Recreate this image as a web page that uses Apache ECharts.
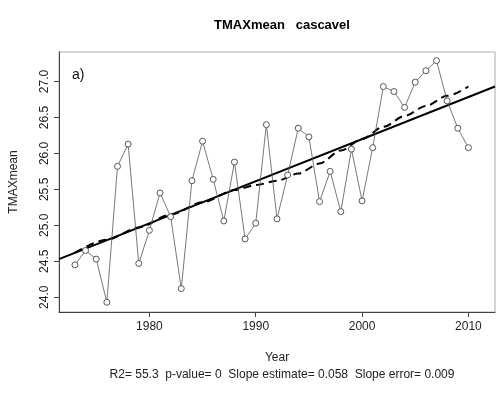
<!DOCTYPE html>
<html>
<head>
<meta charset="utf-8">
<script src="https://cdn.jsdelivr.net/npm/echarts@6/dist/echarts.min.js"></script>
<style>
  html, body { margin: 0; padding: 0; background: #fff; }
  #chart { width: 502px; height: 394px; }
</style>
</head>
<body>
<div id="chart"></div>
<script>
// yearly values
var years = [1973, 1974, 1975, 1976, 1977, 1978, 1979, 1980, 1981, 1982,
             1983, 1984, 1985, 1986, 1987, 1988, 1989, 1990, 1991, 1992,
             1993, 1994, 1995, 1996, 1997, 1998, 1999, 2000, 2001, 2002,
             2003, 2004, 2005, 2006, 2007, 2008, 2009, 2010];
var tmaxMean = [24.45, 24.65, 24.53, 23.93, 25.82, 26.13, 24.47, 24.93, 25.45, 25.12,
                24.12, 25.62, 26.17, 25.64, 25.06, 25.88, 24.81, 25.03, 26.40, 25.09,
                25.70, 26.35, 26.23, 25.33, 25.75, 25.19, 26.06, 25.34, 26.08, 26.93,
                26.86, 26.64, 26.99, 27.15, 27.29, 26.73, 26.35, 26.08];

// smooth (dashed) curve
var smoothYears = [1973, 1976, 1979, 1982, 1985, 1988, 1990, 1992, 1994, 1996,
                   1998, 2000, 2002, 2004, 2006, 2008, 2010];
var smoothVals = [24.62, 24.80, 24.97, 25.15, 25.32, 25.49, 25.56, 25.62, 25.72, 25.86,
                  26.04, 26.20, 26.37, 26.52, 26.66, 26.80, 26.93];

// linear trend (solid), ends at the plot edges
var trendYears = [1971.5, 2012.5];
var trendVals = [24.53, 26.93];

var xTicks = [1980, 1990, 2000, 2010];
var yTicks = [24.0, 24.5, 25.0, 25.5, 26.0, 26.5, 27.0];

function pairs(xs, ys) {
    return xs.map(function (x, i) { return [x, ys[i]]; });
}

var chart = echarts.init(document.getElementById('chart'));
var font = 'Liberation Sans, Arial, sans-serif';

var option = {
    animation: false,
    title: [
        {
            text: 'TMAXmean   cascavel',
            left: 277, top: 14,
            textAlign: 'center',
            textStyle: { fontSize: 13, fontWeight: 'bold', color: '#000', fontFamily: font }
        },
        {
            text: 'R2= 55.3  p-value= 0  Slope estimate= 0.058  Slope error= 0.009',
            left: 277, top: 364,
            textAlign: 'center',
            textStyle: { fontSize: 12, fontWeight: 'normal', color: '#222', fontFamily: font }
        }
    ],
    grid: {
        left: 59, right: 7, top: 52, bottom: 82,
        show: true,
        borderColor: '#aaa',
        borderWidth: 1
    },
    xAxis: {
        type: 'value',
        min: 1971.5,
        max: 2012.5,
        name: 'Year',
        nameLocation: 'middle',
        nameGap: 40,
        nameTextStyle: { fontSize: 12, color: '#222', fontFamily: font },
        splitLine: { show: false },
        axisLine: { show: true, lineStyle: { color: '#444', width: 1 } },
        axisTick: { show: true, length: 5, customValues: xTicks, lineStyle: { color: '#444' } },
        axisLabel: {
            customValues: xTicks,
            margin: 9,
            fontSize: 12,
            color: '#222',
            fontFamily: font,
            formatter: function (v) { return String(v); }
        }
    },
    yAxis: {
        type: 'value',
        min: 23.795,
        max: 27.41,
        name: 'TMAXmean',
        nameLocation: 'middle',
        nameRotate: 90,
        nameGap: 39,
        nameTextStyle: { fontSize: 12, color: '#222', fontFamily: font },
        splitLine: { show: false },
        axisLine: { show: true, lineStyle: { color: '#444', width: 1 } },
        axisTick: { show: true, length: 5, customValues: yTicks, lineStyle: { color: '#444' } },
        axisLabel: {
            customValues: yTicks,
            rotate: 90,
            margin: 8,
            fontSize: 12,
            color: '#222',
            fontFamily: font,
            formatter: function (v) { return v.toFixed(1); }
        }
    },
    graphic: [
        {
            type: 'text',
            left: 72, top: 68,
            style: { text: 'a)', fontSize: 14, fill: '#111', fontFamily: font }
        }
    ],
    series: [
        {
            type: 'line',
            data: pairs(trendYears, trendVals),
            symbol: 'none',
            lineStyle: { color: '#000', width: 2 },
            z: 3
        },
        {
            type: 'line',
            data: pairs(smoothYears, smoothVals),
            symbol: 'none',
            smooth: 0.3,
            smoothMonotone: 'x',
            lineStyle: { color: '#000', width: 2, type: [8, 5] },
            z: 4
        },
        {
            type: 'line',
            data: pairs(years, tmaxMean),
            symbol: 'circle',
            symbolSize: 6,
            showAllSymbol: true,
            itemStyle: { color: '#fff', borderColor: '#555', borderWidth: 1 },
            lineStyle: { color: '#555', width: 0.8 },
            z: 5
        }
    ]
};

chart.setOption(option);
</script>
</body>
</html>
